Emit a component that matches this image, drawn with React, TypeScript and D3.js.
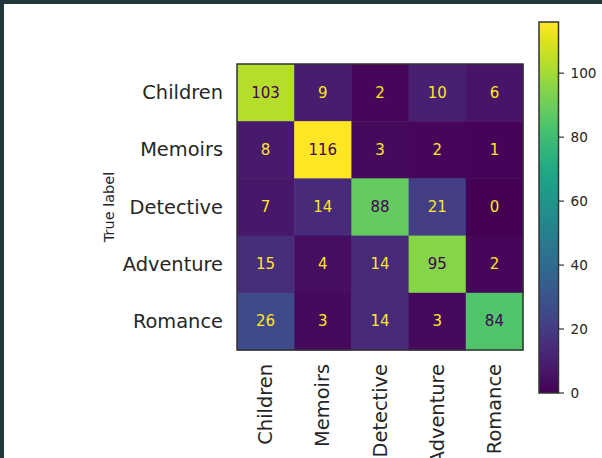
import React from "react";
import * as d3 from "d3";

const labels = ["Children", "Memoirs", "Detective", "Adventure", "Romance"];
const matrix: number[][] = [
  [103, 9, 2, 10, 6],
  [8, 116, 3, 2, 1],
  [7, 14, 88, 21, 0],
  [15, 4, 14, 95, 2],
  [26, 3, 14, 3, 84],
];
const colorbarTicks = [0, 20, 40, 60, 80, 100];
const yAxisTitle = "True label";

const W = 602;
const H = 458;
const TEXT = "#262626";
const FONT = "'DejaVu Sans', sans-serif";

export default function App() {
  const vmin = 0;
  const vmax = d3.max(matrix.flat()) as number;
  const x = d3.scaleBand<string>().domain(labels).range([237, 523]);
  const y = d3.scaleBand<string>().domain(labels).range([64, 350]);
  const color = d3.scaleSequential(d3.interpolateViridis).domain([vmin, vmax]);
  const cb = d3.scaleLinear().domain([vmin, vmax]).range([393, 22]);
  const cbX = 539;
  const cbW = 19.5;
  const thresh = (vmax + vmin) / 2;
  const stops = d3.range(0, 1.0001, 0.05);

  return (
    <svg
      width={W}
      height={H}
      style={{ position: "absolute", left: 0, top: 0, background: "#fff" }}
      fontFamily={FONT}
    >
      <defs>
        <linearGradient id="cbgrad" x1="0" y1="1" x2="0" y2="0">
          {stops.map((t) => (
            <stop key={t} offset={t} stopColor={d3.interpolateViridis(t)} />
          ))}
        </linearGradient>
      </defs>
      <rect x={0} y={0} width={W} height={H} fill="#fff" />
      <rect x={0} y={0} width={W} height={4} fill="#21363b" />
      <rect x={0} y={0} width={4} height={H} fill="#21363b" />

      {matrix.map((row, i) =>
        row.map((v, j) => (
          <g key={`${i}-${j}`}>
            <rect
              x={x(labels[j])}
              y={y(labels[i])}
              width={x.bandwidth() + 0.5}
              height={y.bandwidth() + 0.5}
              fill={color(v)}
            />
            <text
              x={(x(labels[j]) as number) + x.bandwidth() / 2}
              y={(y(labels[i]) as number) + y.bandwidth() / 2}
              textAnchor="middle"
              dominantBaseline="central"
              fontSize={15}
              fill={v >= thresh ? d3.interpolateViridis(0) : d3.interpolateViridis(1)}
            >
              {v}
            </text>
          </g>
        ))
      )}
      <rect
        x={237}
        y={64}
        width={286}
        height={286}
        fill="none"
        stroke="#333"
        strokeWidth={1.5}
      />

      {labels.map((l) => (
        <text
          key={"y" + l}
          x={223}
          y={(y(l) as number) + y.bandwidth() / 2}
          textAnchor="end"
          dominantBaseline="central"
          fontSize={19.4}
          fill={TEXT}
        >
          {l}
        </text>
      ))}
      {labels.map((l) => (
        <text
          key={"x" + l}
          transform={`translate(${(x(l) as number) + x.bandwidth() / 2},364) rotate(-90)`}
          textAnchor="end"
          dominantBaseline="central"
          fontSize={19.4}
          fill={TEXT}
        >
          {l}
        </text>
      ))}
      <text
        transform={`translate(109,207) rotate(-90)`}
        textAnchor="middle"
        dominantBaseline="central"
        fontSize={14.5}
        fill={TEXT}
      >
        {yAxisTitle}
      </text>

      <rect
        x={cbX}
        y={cb(vmax)}
        width={cbW}
        height={cb(vmin) - cb(vmax)}
        fill="url(#cbgrad)"
        stroke="#333"
        strokeWidth={1.5}
      />
      {colorbarTicks.map((t) => (
        <g key={"cb" + t}>
          <line
            x1={cbX + cbW}
            x2={cbX + cbW + 5.5}
            y1={cb(t)}
            y2={cb(t)}
            stroke="#333"
            strokeWidth={1.2}
          />
          <text
            x={570.5}
            y={cb(t)}
            dominantBaseline="central"
            fontSize={13.6}
            fill={TEXT}
          >
            {t}
          </text>
        </g>
      ))}
    </svg>
  );
}
